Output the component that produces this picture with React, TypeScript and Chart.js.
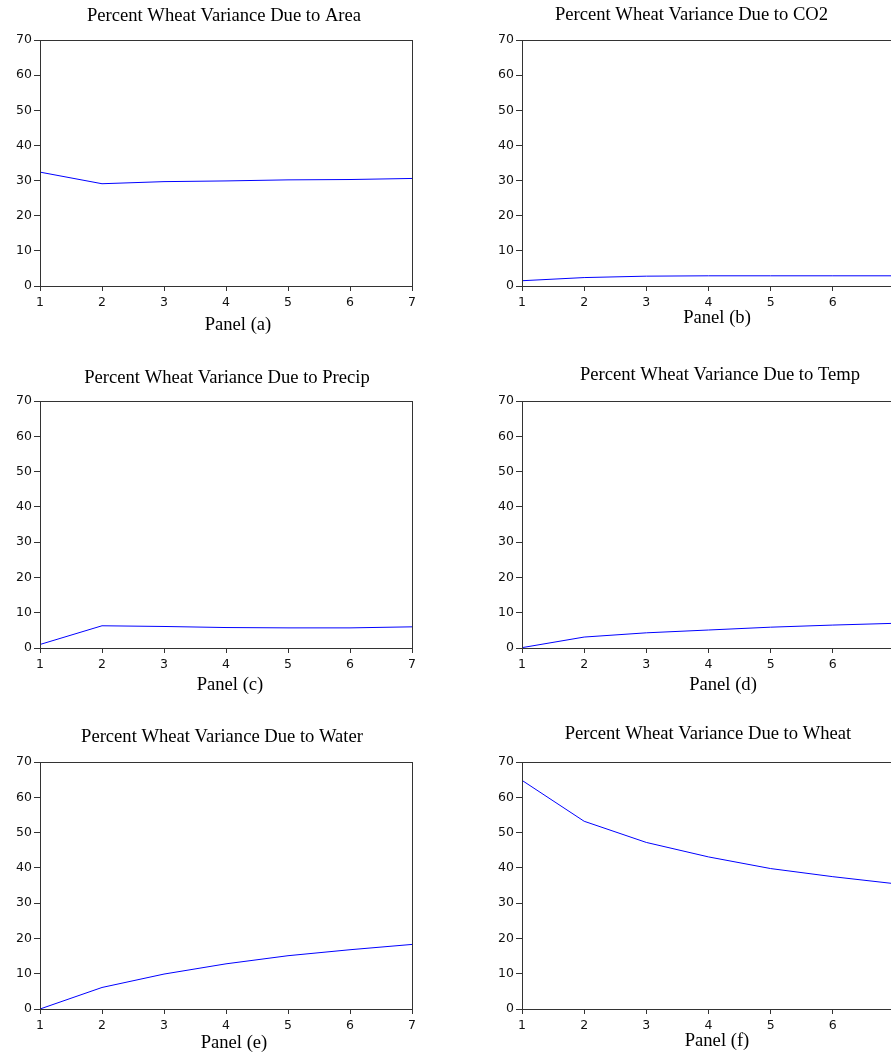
import React, { useEffect, useRef } from "react";
import { Chart, registerables } from "chart.js";

Chart.register(...registerables);

// ---- data ----
const periods = [1, 2, 3, 4, 5, 6, 7];
const areaShare = [32.4, 29.1, 29.7, 29.9, 30.2, 30.3, 30.6];
const co2Share = [1.5, 2.4, 2.8, 2.9, 2.9, 2.9, 2.9];
const precipShare = [1.0, 6.3, 6.1, 5.8, 5.7, 5.7, 6.0];
const tempShare = [0.1, 3.1, 4.3, 5.1, 5.9, 6.5, 7.0];
const waterShare = [0.0, 6.1, 9.9, 12.8, 15.1, 16.8, 18.3];
const wheatShare = [64.8, 53.2, 47.2, 43.1, 39.8, 37.5, 35.5];

const yMin = 0;
const yMax = 70;
const yStep = 10;
const xMin = 1;
const xMax = 7;

const titles = [
  "Percent Wheat Variance Due to Area",
  "Percent Wheat Variance Due to CO2",
  "Percent Wheat Variance Due to Precip",
  "Percent Wheat Variance Due to Temp",
  "Percent Wheat Variance Due to Water",
  "Percent Wheat Variance Due to Wheat",
];
const panelLabels = ["Panel (a)", "Panel (b)", "Panel (c)", "Panel (d)", "Panel (e)", "Panel (f)"];
const seriesList = [areaShare, co2Share, precipShare, tempShare, waterShare, wheatShare];

// ---- layout (page coordinates) ----
type Layout = {
  canvas: { x: number; y: number; w: number; h: number };
  area: { l: number; t: number; r: number; b: number };
  title: { cx: number; by: number };
  label: { cx: number; by: number };
};

const layouts: Layout[] = [
  { canvas: { x: 0, y: 0, w: 450, h: 345 }, area: { l: 40, t: 40, r: 412, b: 286 }, title: { cx: 224, by: 21 }, label: { cx: 238, by: 330 } },
  { canvas: { x: 450, y: 0, w: 460, h: 345 }, area: { l: 522, t: 40, r: 895, b: 286 }, title: { cx: 691.5, by: 20 }, label: { cx: 717, by: 323 } },
  { canvas: { x: 0, y: 345, w: 450, h: 360 }, area: { l: 40, t: 401, r: 412, b: 648 }, title: { cx: 227, by: 382.5 }, label: { cx: 230, by: 690 } },
  { canvas: { x: 450, y: 345, w: 460, h: 360 }, area: { l: 522, t: 401, r: 895, b: 648 }, title: { cx: 720, by: 379.5 }, label: { cx: 723, by: 690 } },
  { canvas: { x: 0, y: 705, w: 450, h: 348 }, area: { l: 40, t: 762, r: 412, b: 1009 }, title: { cx: 222, by: 742 }, label: { cx: 234, by: 1047.5 } },
  { canvas: { x: 450, y: 705, w: 460, h: 348 }, area: { l: 522, t: 762, r: 895, b: 1009 }, title: { cx: 708, by: 738.5 }, label: { cx: 717, by: 1046 } },
];

const FRAME = "#333333";
const SERIF = '"Liberation Serif", "Times New Roman", serif';
const SANS = '"DejaVu Sans", Arial, sans-serif';

function Panel({ idx }: { idx: number }) {
  const ref = useRef<HTMLCanvasElement | null>(null);
  const L = layouts[idx];
  useEffect(() => {
    const cv = ref.current;
    if (!cv) return;
    const ox = L.canvas.x;
    const oy = L.canvas.y;
    const yAxisW = L.area.l - ox;
    const xAxisH = L.canvas.y + L.canvas.h - L.area.b;
    const padTop = L.area.t - oy;
    const padRight = ox + L.canvas.w - L.area.r;

    const decor = {
      id: "decor" + idx,
      afterDraw(chart: any) {
        const ctx = chart.ctx;
        const a = chart.chartArea;
        ctx.save();
        ctx.strokeStyle = FRAME;
        ctx.lineWidth = 1;
        ctx.strokeRect(Math.round(a.left) + 0.5, Math.round(a.top) + 0.5, Math.round(a.right - a.left), Math.round(a.bottom - a.top));
        ctx.fillStyle = "#000";
        ctx.font = "18.6px " + SERIF;
        ctx.textAlign = "center";
        ctx.textBaseline = "alphabetic";
        ctx.fillText(titles[idx], L.title.cx - ox, L.title.by - oy);
        ctx.fillText(panelLabels[idx], L.label.cx - ox, L.label.by - oy);
        ctx.restore();
      },
    };

    const chart = new Chart(cv, {
      type: "line",
      data: {
        datasets: [
          {
            data: periods.map((p, i) => ({ x: p, y: seriesList[idx][i] })),
            borderColor: "#0000ff",
            borderWidth: 1,
            pointRadius: 0,
            tension: 0,
            fill: false,
          },
        ],
      },
      options: {
        animation: false,
        responsive: false,
        devicePixelRatio: 1,
        events: [],
        layout: { padding: { left: 0, top: padTop, right: padRight, bottom: 0 } },
        plugins: { legend: { display: false }, title: { display: false }, tooltip: { enabled: false } },
        scales: {
          x: {
            type: "linear",
            min: xMin,
            max: xMax,
            afterFit: (s: any) => {
              s.height = xAxisH;
            },
            ticks: { stepSize: 1, color: "#111", font: { family: SANS, size: 12.5 }, padding: 4, maxRotation: 0 },
            grid: { display: true, drawOnChartArea: false, drawTicks: true, tickLength: 5, color: FRAME, lineWidth: 1 },
            border: { display: false },
          },
          y: {
            min: yMin,
            max: yMax,
            afterFit: (s: any) => {
              s.width = yAxisW;
            },
            ticks: { stepSize: yStep, color: "#111", font: { family: SANS, size: 12.5 }, padding: 2 },
            grid: { display: true, drawOnChartArea: false, drawTicks: true, tickLength: 6, color: FRAME, lineWidth: 1 },
            border: { display: false },
          },
        },
      },
      plugins: [decor],
    } as any);
    return () => chart.destroy();
  }, [idx]);
  return (
    <canvas
      ref={ref}
      width={L.canvas.w}
      height={L.canvas.h}
      style={{ position: "absolute", left: L.canvas.x, top: L.canvas.y, width: L.canvas.w, height: L.canvas.h }}
    />
  );
}

export default function App() {
  return (
    <div style={{ position: "fixed", left: 0, top: 0, width: 891, height: 1053, overflow: "hidden", background: "#fff" }}>
      {layouts.map((_, i) => (
        <Panel key={i} idx={i} />
      ))}
    </div>
  );
}
